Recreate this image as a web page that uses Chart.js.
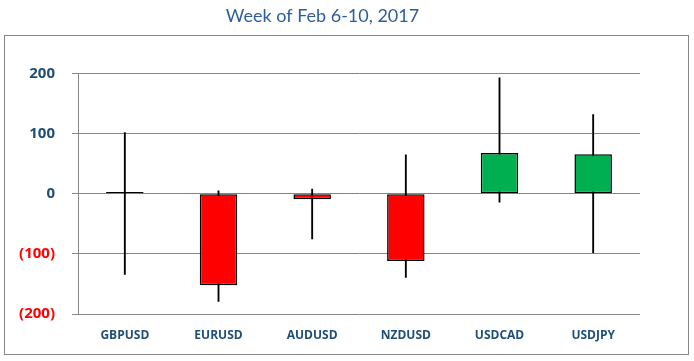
<!DOCTYPE html>
<html lang="en">
<head>
    <meta charset="UTF-8">
    <title>Week of Feb 6-10, 2017</title>
    <script src="https://cdn.jsdelivr.net/npm/chart.js"></script>
    <style>
        html, body { margin: 0; padding: 0; background: #fff; }
        #wrap { width: 694px; height: 361px; }
    </style>
</head>
<body>
    <div id="wrap"><canvas id="grafico"></canvas></div>

    <script>
        // weekly moves (pips) per pair
        const pares = ['GBPUSD', 'EURUSD', 'AUDUSD', 'NZDUSD', 'USDCAD', 'USDJPY'];
        const aperturas = [0, 0, 0, 0, 0, 0];
        const cierres = [3, -152, -9, -112, 68, 66];
        const maximos = [102, 5, 8, 65, 193, 132];
        const minimos = [-134, -179, -75, -139, -14, -98];
        const marcasY = [-200, -100, 0, 100, 200];

        const azul = '#1F4E79';
        const gris = '#868686';

        // marco exterior del grafico
        const marco = {
            id: 'marco',
            beforeDraw(chart) {
                const c = chart.ctx;
                c.save();
                c.fillStyle = '#fff';
                c.fillRect(0, 0, chart.width, chart.height);
                c.strokeStyle = gris;
                c.lineWidth = 1;
                c.strokeRect(4.5, 35.5, 684, 319);
                c.restore();
            }
        };

        const cuerpos = pares.map((p, i) => [aperturas[i], cierres[i]]);
        const mechas = pares.map((p, i) => [minimos[i], maximos[i]]);
        // doji (casi sin cuerpo) se ve como raya negra
        const colores = pares.map((p, i) => {
            const d = cierres[i] - aperturas[i];
            if (Math.abs(d) < 5) return '#000';
            return d < 0 ? '#FF0000' : '#00B050';
        });

        new Chart(document.getElementById('grafico'), {
            type: 'bar',
            data: {
                labels: pares,
                datasets: [{
                    label: 'Cuerpo',
                    data: cuerpos,
                    backgroundColor: colores,
                    borderColor: '#000',
                    borderWidth: 1.5,
                    borderSkipped: false,
                    barPercentage: 0.4,
                    categoryPercentage: 1,
                    grouped: false,
                    order: 0
                },
                {
                    label: 'Mecha',
                    data: mechas,
                    backgroundColor: '#000',
                    borderWidth: 0,
                    barThickness: 1.2,
                    grouped: false,
                    order: 1
                }]
            },
            options: {
                responsive: true,
                maintainAspectRatio: false,
                animation: false,
                layout: { padding: { left: 5, right: 54, top: 0, bottom: 6 } },
                plugins: {
                    legend: { display: false },
                    tooltip: { enabled: false },
                    title: {
                        display: true,
                        text: 'Week of Feb 6-10, 2017',
                        color: '#2E5E9A',
                        font: { family: 'Lato', size: 18, weight: 'normal' },
                        padding: { top: 5, bottom: 47 }
                    }
                },
                scales: {
                    x: {
                        grid: { display: false, drawTicks: false },
                        border: { display: false },
                        ticks: {
                            color: azul,
                            padding: 14,
                            font: { family: 'Open Sans', size: 12, weight: 'bold' }
                        },
                        afterFit(scale) { scale.height = 41; }
                    },
                    y: {
                        min: -200,
                        max: 200,
                        afterBuildTicks(scale) { scale.ticks = marcasY.map(v => ({ value: v })); },
                        grid: { color: gris, lineWidth: 1, tickLength: 6 },
                        border: { display: true, color: gris, width: 1 },
                        ticks: {
                            padding: 17,
                            color: ctx => ctx.tick.value < 0 ? '#FF0000' : azul,
                            font: { family: 'Open Sans', size: 15, weight: 'bold' },
                            callback: v => v < 0 ? '(' + (-v) + ')' : String(v)
                        },
                        afterFit(scale) { scale.width = 73; }
                    }
                }
            },
            plugins: [marco]
        });
    </script>
</body>
</html>
